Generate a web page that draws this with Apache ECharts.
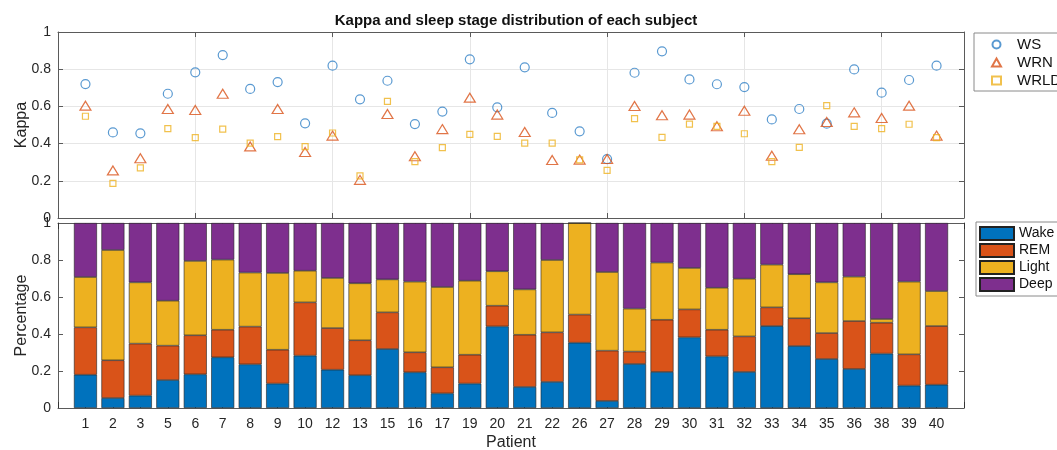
<!DOCTYPE html>
<html>
<head>
<meta charset="utf-8">
<script src="https://cdn.jsdelivr.net/npm/echarts@6/dist/echarts.min.js"></script>
<style>
html, body { margin: 0; padding: 0; background: #fff; }
#main { width: 1057px; height: 450px; }
</style>
</head>
<body>
<div id="main"></div>
<script>
// patient ids on the x axis
var patients = ['1', '2', '3', '5', '6', '7', '8', '9', '10', '12', '13', '15', '16', '17', '19', '20',
    '21', '22', '26', '27', '28', '29', '30', '31', '32', '33', '34', '35', '36', '38', '39', '40'];

// kappa per subject
var kappaWS = [0.72, 0.46, 0.455, 0.668, 0.783, 0.876, 0.694, 0.731, 0.509, 0.819, 0.638, 0.738, 0.505, 0.572, 0.853, 0.595,
    0.81, 0.565, 0.466, 0.317, 0.781, 0.896, 0.745, 0.719, 0.704, 0.53, 0.586, 0.507, 0.799, 0.674, 0.742, 0.819];
var kappaWRN = [0.604, 0.256, 0.321, 0.586, 0.581, 0.668, 0.385, 0.586, 0.355, 0.443, 0.205, 0.559, 0.332, 0.478, 0.647, 0.556,
    0.462, 0.312, 0.314, 0.317, 0.602, 0.552, 0.556, 0.493, 0.577, 0.335, 0.477, 0.516, 0.568, 0.538, 0.604, 0.443];
var kappaWRLD = [0.547, 0.186, 0.269, 0.48, 0.432, 0.478, 0.403, 0.437, 0.384, 0.457, 0.226, 0.627, 0.303, 0.378, 0.45, 0.439,
    0.403, 0.403, 0.312, 0.256, 0.534, 0.434, 0.505, 0.493, 0.453, 0.303, 0.38, 0.604, 0.493, 0.48, 0.504, 0.432];

// sleep stage fractions
var wake = [0.18, 0.054, 0.067, 0.151, 0.182, 0.274, 0.236, 0.132, 0.283, 0.207, 0.177, 0.319, 0.193, 0.079, 0.132, 0.441,
    0.114, 0.141, 0.353, 0.038, 0.238, 0.195, 0.382, 0.279, 0.195, 0.443, 0.335, 0.265, 0.211, 0.294, 0.121, 0.126];
var rem = [0.256, 0.204, 0.281, 0.186, 0.211, 0.149, 0.204, 0.183, 0.288, 0.225, 0.189, 0.198, 0.108, 0.141, 0.156, 0.112,
    0.282, 0.268, 0.152, 0.272, 0.067, 0.282, 0.151, 0.144, 0.192, 0.101, 0.15, 0.14, 0.259, 0.167, 0.169, 0.317];
var light = [0.272, 0.596, 0.331, 0.243, 0.402, 0.379, 0.292, 0.415, 0.171, 0.271, 0.308, 0.178, 0.382, 0.434, 0.4, 0.186,
    0.245, 0.391, 0.495, 0.425, 0.232, 0.309, 0.224, 0.227, 0.312, 0.231, 0.238, 0.274, 0.24, 0.02, 0.393, 0.189];
var deep = [0.292, 0.146, 0.321, 0.42, 0.205, 0.198, 0.268, 0.27, 0.258, 0.297, 0.326, 0.305, 0.317, 0.346, 0.312, 0.261,
    0.359, 0.2, 0, 0.265, 0.463, 0.214, 0.243, 0.35, 0.301, 0.225, 0.277, 0.321, 0.29, 0.519, 0.317, 0.368];

var myChart = null;
var FONT = 'Liberation Sans';
var AXC = '#5a5a5a';

function pairs(arr) {
    var res = [];
    for (var i = 0; i < arr.length; i++) {
        res.push([i + 1, arr[i]]);
    }
    return res;
}

// bars sit on a category axis padded with an empty slot at each end (xlim 0..33)
function padded(arr) {
    return [null].concat(arr, [null]);
}

function ylabel(v) {
    return v === 0 || v === 1 ? String(v) : v.toFixed(1);
}

function boxAxis(gi, pos, itv) {
    return {
        type: 'value', gridIndex: gi, position: pos, min: 0, max: pos == 'top' ? 33 : 1,
        interval: itv,
        axisLine: { show: true, onZero: false, lineStyle: { color: AXC, width: 1 } },
        axisTick: { show: true, inside: true, length: 5, lineStyle: { color: AXC } },
        axisLabel: { show: false },
        splitLine: { show: false }
    };
}

function barSeries(name, color, arr) {
    return {
        name: name, type: 'bar', stack: 'st', xAxisIndex: 2, yAxisIndex: 2, barWidth: 23,
        itemStyle: { color: color, borderColor: '#222', borderWidth: 0.6 },
        data: padded(arr)
    };
}

function initChart() {
    myChart = echarts.init(document.getElementById('main'), null, { renderer: 'canvas' });
    var cats = padded(patients).map(function(p) { return p || ''; });
    var option = {
        animation: false,
        title: {
            text: 'Kappa and sleep stage distribution of each subject',
            left: 511, top: 8, textAlign: 'center',
            textStyle: { fontFamily: FONT, fontSize: 15, fontWeight: 'bold', color: '#111' }
        },
        grid: [
            { left: 58, right: 93, top: 32, height: 186, outerBoundsMode: 'none' },
            { left: 58, right: 93, top: 223, height: 185, outerBoundsMode: 'none' }
        ],
        legend: [{
            orient: 'vertical', left: 974, top: 33,
            borderColor: '#8a8a8a', borderWidth: 1, padding: [4, 30, 3, 17],
            itemWidth: 9, itemHeight: 8, itemGap: 3,
            textStyle: { fontFamily: FONT, fontSize: 15, color: '#111', padding: [0, 0, 0, 11] },
            data: ['WS', 'WRN', 'WRLD']
        }, {
            orient: 'vertical', left: 976, top: 222,
            borderColor: '#8a8a8a', borderWidth: 1, padding: [4, 30, 4, 3],
            itemWidth: 34, itemHeight: 13, itemGap: 2, icon: 'rect',
            textStyle: { fontFamily: FONT, fontSize: 14, color: '#111' },
            data: ['Wake', 'REM', 'Light', 'Deep']
        }],
        xAxis: [{
            type: 'value', gridIndex: 0, min: 0, max: 33, interval: 5,
            axisLine: { onZero: false, lineStyle: { color: AXC } },
            axisTick: { inside: true, length: 5, lineStyle: { color: AXC } },
            axisLabel: { show: false },
            splitLine: { show: true, lineStyle: { color: '#e6e6e6' } }
        }, boxAxis(0, 'top', 5), {
            type: 'category', gridIndex: 1, boundaryGap: false, data: cats,
            name: 'Patient', nameLocation: 'middle', nameGap: 27, nameMoveOverlap: false,
            nameTextStyle: { fontFamily: FONT, fontSize: 16, color: '#262626' },
            axisLine: { onZero: false, lineStyle: { color: AXC } },
            axisTick: { inside: true, length: 6, interval: 0, lineStyle: { color: '#333' } },
            axisLabel: { fontFamily: FONT, fontSize: 14, color: '#262626', margin: 9, interval: 0 },
            splitLine: { show: false }
        }, {
            type: 'category', gridIndex: 1, boundaryGap: false, data: cats, position: 'top',
            axisLine: { show: true, onZero: false, lineStyle: { color: AXC } },
            axisTick: { show: true, inside: true, length: 6, interval: 0, lineStyle: { color: '#333' } },
            axisLabel: { show: false },
            splitLine: { show: false }
        }],
        yAxis: [{
            type: 'value', gridIndex: 0, min: 0, max: 1, interval: 0.2,
            name: 'Kappa', nameLocation: 'middle', nameGap: 28, nameMoveOverlap: false,
            nameTextStyle: { fontFamily: FONT, fontSize: 16, color: '#262626' },
            axisLine: { show: true, lineStyle: { color: AXC } },
            axisTick: { show: true, inside: true, length: 5, lineStyle: { color: AXC } },
            axisLabel: { fontFamily: FONT, fontSize: 14, color: '#262626', margin: 7, formatter: ylabel },
            splitLine: { show: true, lineStyle: { color: '#e6e6e6' } }
        }, boxAxis(0, 'right', 0.2), {
            type: 'value', gridIndex: 1, min: 0, max: 1, interval: 0.2,
            name: 'Percentage', nameLocation: 'middle', nameGap: 28, nameMoveOverlap: false,
            nameTextStyle: { fontFamily: FONT, fontSize: 16, color: '#262626' },
            axisLine: { show: true, lineStyle: { color: AXC } },
            axisTick: { show: true, inside: true, length: 5, lineStyle: { color: AXC } },
            axisLabel: { fontFamily: FONT, fontSize: 14, color: '#262626', margin: 7, formatter: ylabel },
            splitLine: { show: false }
        }, boxAxis(1, 'right', 0.2)],
        series: [{
            name: 'WS', type: 'scatter', xAxisIndex: 0, yAxisIndex: 0,
            symbol: 'circle', symbolSize: 9,
            itemStyle: { color: 'rgba(255,255,255,0)', borderColor: '#2f7fc6', borderWidth: 1.2 },
            data: pairs(kappaWS)
        }, {
            name: 'WRN', type: 'scatter', xAxisIndex: 0, yAxisIndex: 0,
            symbol: 'triangle', symbolSize: [11, 9],
            itemStyle: { color: 'rgba(255,255,255,0)', borderColor: '#d95319', borderWidth: 1.2 },
            data: pairs(kappaWRN)
        }, {
            name: 'WRLD', type: 'scatter', xAxisIndex: 0, yAxisIndex: 0,
            symbol: 'rect', symbolSize: 6,
            itemStyle: { color: 'rgba(255,255,255,0)', borderColor: '#edb120', borderWidth: 1.2 },
            data: pairs(kappaWRLD)
        },
        barSeries('Wake', '#0072bd', wake),
        barSeries('REM', '#d95319', rem),
        barSeries('Light', '#edb120', light),
        barSeries('Deep', '#7e2f8e', deep)]
    };
    myChart.setOption(option);
}

initChart();
</script>
</body>
</html>
